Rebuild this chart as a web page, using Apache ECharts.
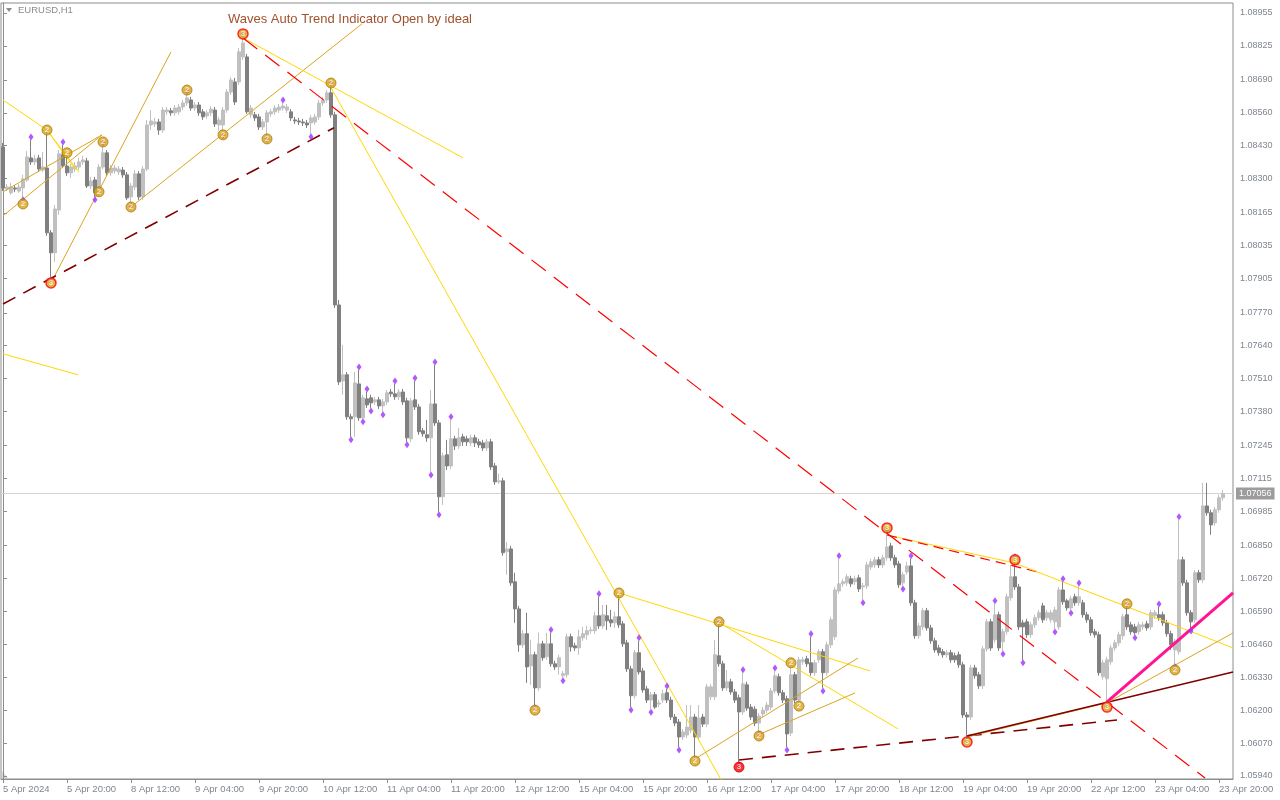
<!DOCTYPE html>
<html><head><meta charset="utf-8">
<script src="https://cdn.jsdelivr.net/npm/echarts@6/dist/echarts.min.js"></script>
<style>html,body{margin:0;padding:0;background:#fff}#c{width:1280px;height:800px}</style>
</head><body><div id="c"></div>
<script>
// ---------- data ----------
const symbolName = 'EURUSD,H1';
const titleText = 'Waves Auto Trend Indicator Open by ideal';
const tickLabels = ['5 Apr 2024','5 Apr 20:00','8 Apr 12:00','9 Apr 04:00','9 Apr 20:00','10 Apr 12:00','11 Apr 04:00','11 Apr 20:00','12 Apr 12:00','15 Apr 04:00','15 Apr 20:00','16 Apr 12:00','17 Apr 04:00','17 Apr 20:00','18 Apr 12:00','19 Apr 04:00','19 Apr 20:00','22 Apr 12:00','23 Apr 04:00','23 Apr 20:00'];
const priceTicks = [1.08955,1.08825,1.08690,1.08560,1.08430,1.08300,1.08165,1.08035,1.07905,1.07770,1.07640,1.07510,1.07380,1.07245,1.07115,1.06985,1.06850,1.06720,1.06590,1.06460,1.06330,1.06200,1.06070,1.05940];
const lastPrice = 1.07056;

const opens = [
1.08425,1.08259,1.08244,1.08263,1.08251,1.08263,1.08295,1.08382,1.08366,1.08382,
1.08334,1.08342,1.08086,1.08007,1.08176,1.08394,1.08350,1.08323,1.08338,1.08346,
1.08366,1.08370,1.08271,1.08295,1.08244,1.08346,1.08402,1.08323,1.08330,1.08326,
1.08334,1.08315,1.08228,1.08267,1.08319,1.08228,1.08338,1.08512,1.08516,1.08524,
1.08492,1.08564,1.08568,1.08560,1.08564,1.08583,1.08599,1.08611,1.08579,1.08591,
1.08564,1.08548,1.08560,1.08571,1.08512,1.08512,1.08571,1.08642,1.08682,1.08682,
1.08781,1.08781,1.08552,1.08552,1.08544,1.08504,1.08524,1.08556,1.08564,1.08571,
1.08579,1.08571,1.08564,1.08532,1.08528,1.08524,1.08520,1.08520,1.08524,1.08544,
1.08599,1.08611,1.08639,1.08552,1.07801,1.07501,1.07525,1.07359,1.07359,1.07489,
1.07355,1.07430,1.07434,1.07418,1.07426,1.07402,1.07418,1.07457,1.07450,1.07438,
1.07457,1.07422,1.07272,1.07426,1.07398,1.07304,1.07288,1.07276,1.07410,1.07335,
1.07043,1.07209,1.07165,1.07272,1.07244,1.07280,1.07272,1.07256,1.07276,1.07260,
1.07256,1.07236,1.07260,1.07165,1.07102,1.07106,1.06826,1.06837,1.06707,1.06600,
1.06458,1.06502,1.06375,1.06419,1.06288,1.06462,1.06411,1.06462,1.06383,1.06371,
1.06336,1.06340,1.06490,1.06454,1.06446,1.06486,1.06498,1.06514,1.06514,1.06573,
1.06533,1.06573,1.06557,1.06545,1.06569,1.06541,1.06466,1.06363,1.06257,1.06427,
1.06355,1.06284,1.06240,1.06261,1.06224,1.06240,1.06269,1.06240,1.06173,1.06153,
1.06094,1.06102,1.06121,1.06173,1.06094,1.06173,1.06145,1.06253,1.06253,1.06415,
1.06383,1.06288,1.06312,1.06272,1.06249,1.06193,1.06300,1.06212,1.06204,1.06149,
1.06185,1.06200,1.06212,1.06276,1.06332,1.06269,1.06245,1.06110,1.06340,1.06240,
1.06391,1.06403,1.06387,1.06348,1.06399,1.06431,1.06348,1.06458,1.06490,1.06671,
1.06699,1.06703,1.06719,1.06707,1.06723,1.06687,1.06691,1.06766,1.06774,1.06794,
1.06774,1.06802,1.06849,1.06802,1.06778,1.06703,1.06746,1.06770,1.06624,1.06494,
1.06529,1.06593,1.06525,1.06474,1.06446,1.06431,1.06419,1.06427,1.06415,1.06419,
1.06379,1.06181,1.06173,1.06367,1.06340,1.06296,1.06442,1.06549,1.06478,1.06577,
1.06470,1.06510,1.06644,1.06727,1.06687,1.06545,1.06549,1.06498,1.06537,1.06565,
1.06612,1.06565,1.06557,1.06549,1.06529,1.06675,1.06632,1.06604,1.06648,1.06624,
1.06624,1.06577,1.06557,1.06510,1.06498,1.06332,1.06324,1.06391,1.06446,1.06466,
1.06494,1.06577,1.06537,1.06529,1.06510,1.06529,1.06541,1.06529,1.06573,1.06577,
1.06577,1.06545,1.06502,1.06438,1.06431,1.06794,1.06703,1.06585,1.06557,1.06743,
1.06715,1.07007,1.06980,1.06940,1.06992,1.07039];

const closes = [
1.08263,1.08267,1.08267,1.08259,1.08267,1.08299,1.08386,1.08366,1.08378,1.08338,
1.08346,1.08086,1.08007,1.08180,1.08398,1.08350,1.08323,1.08346,1.08350,1.08366,
1.08374,1.08271,1.08291,1.08244,1.08346,1.08402,1.08323,1.08342,1.08342,1.08338,
1.08315,1.08224,1.08271,1.08319,1.08228,1.08338,1.08512,1.08528,1.08524,1.08492,
1.08571,1.08571,1.08560,1.08579,1.08583,1.08599,1.08619,1.08579,1.08591,1.08560,
1.08544,1.08560,1.08575,1.08516,1.08532,1.08571,1.08642,1.08690,1.08603,1.08801,
1.08836,1.08564,1.08579,1.08540,1.08504,1.08524,1.08560,1.08564,1.08579,1.08583,
1.08587,1.08583,1.08540,1.08528,1.08524,1.08520,1.08512,1.08540,1.08544,1.08599,
1.08611,1.08639,1.08552,1.07801,1.07497,1.07525,1.07359,1.07351,1.07493,1.07355,
1.07434,1.07406,1.07414,1.07426,1.07402,1.07418,1.07454,1.07450,1.07438,1.07457,
1.07418,1.07276,1.07422,1.07398,1.07300,1.07292,1.07276,1.07410,1.07335,1.07043,
1.07205,1.07165,1.07272,1.07244,1.07276,1.07260,1.07260,1.07276,1.07256,1.07248,
1.07236,1.07260,1.07161,1.07102,1.07106,1.06822,1.06837,1.06703,1.06600,1.06458,
1.06502,1.06371,1.06419,1.06288,1.06462,1.06407,1.06462,1.06383,1.06371,1.06407,
1.06344,1.06490,1.06450,1.06446,1.06490,1.06502,1.06514,1.06517,1.06573,1.06533,
1.06577,1.06553,1.06545,1.06569,1.06537,1.06462,1.06363,1.06257,1.06427,1.06351,
1.06280,1.06240,1.06261,1.06212,1.06228,1.06265,1.06240,1.06173,1.06149,1.06094,
1.06114,1.06133,1.06173,1.06094,1.06169,1.06145,1.06292,1.06292,1.06419,1.06383,
1.06288,1.06312,1.06272,1.06240,1.06193,1.06304,1.06208,1.06173,1.06149,1.06177,
1.06200,1.06220,1.06276,1.06336,1.06269,1.06240,1.06106,1.06340,1.06240,1.06399,
1.06399,1.06383,1.06348,1.06387,1.06431,1.06348,1.06458,1.06557,1.06675,1.06699,
1.06707,1.06727,1.06699,1.06719,1.06679,1.06691,1.06774,1.06786,1.06794,1.06774,
1.06802,1.06845,1.06802,1.06774,1.06695,1.06735,1.06770,1.06624,1.06494,1.06533,
1.06593,1.06525,1.06474,1.06438,1.06427,1.06419,1.06427,1.06399,1.06399,1.06379,
1.06181,1.06173,1.06367,1.06336,1.06296,1.06442,1.06549,1.06446,1.06577,1.06446,
1.06510,1.06648,1.06727,1.06687,1.06529,1.06529,1.06498,1.06537,1.06565,1.06585,
1.06557,1.06585,1.06585,1.06596,1.06675,1.06628,1.06604,1.06640,1.06624,1.06648,
1.06577,1.06557,1.06506,1.06498,1.06348,1.06387,1.06399,1.06446,1.06466,1.06498,
1.06569,1.06529,1.06510,1.06506,1.06537,1.06537,1.06525,1.06585,1.06585,1.06565,
1.06545,1.06502,1.06458,1.06470,1.06794,1.06703,1.06585,1.06549,1.06743,1.06715,
1.07007,1.06980,1.06932,1.06992,1.07039,1.07056];

const lows = [
1.08251,1.08251,1.08236,1.08247,1.08244,1.08228,1.08287,1.08354,1.08354,1.08326,
1.08326,1.08074,1.07912,1.07971,1.08157,1.08342,1.08311,1.08303,1.08326,1.08334,
1.08354,1.08263,1.08259,1.08228,1.08232,1.08338,1.08311,1.08311,1.08319,1.08315,
1.08303,1.08216,1.08204,1.08255,1.08216,1.08216,1.08330,1.08492,1.08504,1.08473,
1.08481,1.08552,1.08548,1.08548,1.08552,1.08571,1.08587,1.08568,1.08568,1.08548,
1.08532,1.08536,1.08548,1.08504,1.08489,1.08481,1.08560,1.08631,1.08591,1.08670,
1.08769,1.08556,1.08540,1.08528,1.08492,1.08492,1.08469,1.08544,1.08552,1.08560,
1.08568,1.08560,1.08528,1.08516,1.08512,1.08508,1.08500,1.08477,1.08512,1.08532,
1.08587,1.08599,1.08540,1.07789,1.07485,1.07446,1.07347,1.07280,1.07280,1.07343,
1.07351,1.07394,1.07394,1.07406,1.07390,1.07379,1.07406,1.07438,1.07426,1.07426,
1.07406,1.07260,1.07260,1.07386,1.07288,1.07280,1.07260,1.07141,1.07323,1.06984,
1.07011,1.07149,1.07153,1.07228,1.07232,1.07244,1.07244,1.07244,1.07240,1.07236,
1.07224,1.07224,1.07149,1.07090,1.07094,1.06810,1.06735,1.06691,1.06545,1.06431,
1.06446,1.06308,1.06300,1.06220,1.06276,1.06395,1.06399,1.06371,1.06359,1.06340,
1.06328,1.06328,1.06431,1.06434,1.06419,1.06474,1.06478,1.06502,1.06502,1.06521,
1.06521,1.06517,1.06529,1.06525,1.06525,1.06450,1.06351,1.06212,1.06245,1.06340,
1.06269,1.06228,1.06204,1.06205,1.06212,1.06228,1.06228,1.06161,1.06137,1.06054,
1.06082,1.06090,1.06110,1.06003,1.06082,1.06133,1.06133,1.06240,1.06240,1.06371,
1.06276,1.06276,1.06261,1.06228,1.05995,1.06181,1.06197,1.06161,1.06137,1.06118,
1.06173,1.06189,1.06200,1.06265,1.06257,1.06228,1.06054,1.06098,1.06228,1.06216,
1.06379,1.06371,1.06336,1.06336,1.06387,1.06288,1.06336,1.06446,1.06478,1.06660,
1.06687,1.06691,1.06687,1.06695,1.06667,1.06636,1.06679,1.06754,1.06762,1.06762,
1.06762,1.06790,1.06790,1.06762,1.06683,1.06691,1.06735,1.06612,1.06482,1.06482,
1.06517,1.06514,1.06462,1.06427,1.06415,1.06407,1.06407,1.06387,1.06387,1.06367,
1.06169,1.06094,1.06161,1.06324,1.06284,1.06284,1.06431,1.06434,1.06466,1.06434,
1.06434,1.06498,1.06632,1.06675,1.06517,1.06399,1.06486,1.06486,1.06525,1.06553,
1.06545,1.06553,1.06545,1.06521,1.06517,1.06616,1.06593,1.06596,1.06612,1.06612,
1.06565,1.06545,1.06494,1.06486,1.06336,1.06320,1.06232,1.06379,1.06434,1.06454,
1.06478,1.06517,1.06498,1.06498,1.06498,1.06517,1.06514,1.06517,1.06561,1.06553,
1.06533,1.06490,1.06438,1.06383,1.06419,1.06691,1.06573,1.06525,1.06545,1.06703,
1.06703,1.06968,1.06893,1.06928,1.06980,1.07027];

const highs = [
1.08441,1.08279,1.08283,1.08275,1.08279,1.08315,1.08409,1.08453,1.08394,1.08394,
1.08406,1.08492,1.08097,1.08196,1.08413,1.08433,1.08386,1.08358,1.08366,1.08382,
1.08390,1.08382,1.08307,1.08307,1.08358,1.08429,1.08413,1.08354,1.08354,1.08350,
1.08346,1.08326,1.08283,1.08334,1.08330,1.08350,1.08532,1.08571,1.08540,1.08536,
1.08583,1.08583,1.08579,1.08591,1.08595,1.08611,1.08631,1.08623,1.08603,1.08603,
1.08575,1.08571,1.08587,1.08583,1.08544,1.08583,1.08654,1.08702,1.08698,1.08816,
1.08860,1.08793,1.08591,1.08564,1.08556,1.08536,1.08571,1.08575,1.08591,1.08595,
1.08599,1.08595,1.08575,1.08544,1.08540,1.08536,1.08532,1.08552,1.08556,1.08611,
1.08623,1.08650,1.08666,1.08564,1.07821,1.07643,1.07536,1.07371,1.07536,1.07544,
1.07446,1.07457,1.07446,1.07438,1.07438,1.07430,1.07465,1.07469,1.07489,1.07469,
1.07469,1.07434,1.07434,1.07501,1.07410,1.07315,1.07347,1.07465,1.07564,1.07347,
1.07217,1.07268,1.07347,1.07284,1.07315,1.07292,1.07284,1.07288,1.07288,1.07272,
1.07268,1.07272,1.07272,1.07177,1.07134,1.07118,1.06865,1.06849,1.06743,1.06612,
1.06517,1.06585,1.06478,1.06431,1.06506,1.06474,1.06506,1.06506,1.06395,1.06419,
1.06355,1.06502,1.06502,1.06466,1.06517,1.06529,1.06533,1.06529,1.06589,1.06648,
1.06616,1.06616,1.06596,1.06589,1.06656,1.06553,1.06478,1.06375,1.06438,1.06474,
1.06367,1.06296,1.06272,1.06272,1.06240,1.06280,1.06284,1.06253,1.06185,1.06165,
1.06125,1.06220,1.06220,1.06185,1.06220,1.06185,1.06304,1.06304,1.06478,1.06537,
1.06395,1.06359,1.06324,1.06284,1.06261,1.06348,1.06312,1.06224,1.06216,1.06189,
1.06212,1.06232,1.06288,1.06355,1.06344,1.06280,1.06257,1.06387,1.06351,1.06411,
1.06411,1.06415,1.06490,1.06399,1.06442,1.06442,1.06470,1.06569,1.06687,1.06798,
1.06719,1.06739,1.06731,1.06731,1.06735,1.06703,1.06786,1.06798,1.06806,1.06806,
1.06814,1.06901,1.06861,1.06814,1.06790,1.06746,1.06786,1.06798,1.06636,1.06545,
1.06604,1.06604,1.06537,1.06486,1.06458,1.06442,1.06438,1.06438,1.06427,1.06431,
1.06391,1.06193,1.06379,1.06379,1.06351,1.06454,1.06561,1.06561,1.06620,1.06589,
1.06521,1.06660,1.06774,1.06794,1.06699,1.06557,1.06561,1.06549,1.06577,1.06596,
1.06624,1.06596,1.06596,1.06608,1.06687,1.06707,1.06640,1.06652,1.06660,1.06691,
1.06636,1.06589,1.06569,1.06521,1.06510,1.06399,1.06411,1.06458,1.06478,1.06510,
1.06581,1.06608,1.06549,1.06541,1.06549,1.06549,1.06553,1.06596,1.06596,1.06608,
1.06589,1.06557,1.06514,1.06482,1.06952,1.06806,1.06715,1.06596,1.06754,1.06754,
1.07098,1.07098,1.06992,1.07003,1.07051,1.07070];

// fractal bars (purple marks)
const fractalHighBars = [7,15,25,46,60,70,82,89,91,98,103,108,112,137,149,159,166,179,185,193,202,209,221,227,248,253,265,269,281,289,294];
const fractalLowBars  = [5,12,23,32,55,66,77,87,90,92,95,101,107,109,133,140,157,162,169,184,189,196,205,215,225,241,250,255,263,267,276,283,293,297];

// zigzag wave pivots: bar, price, wave number
const pivotBars   = [11,5,16,12,24,25,32,46,55,60,66,82,133,154,173,179,184,189,197,199,221,241,253,276,281,293];
const pivotPrices = [1.08492,1.08200,1.08402,1.07888,1.08248,1.08445,1.08188,1.08650,1.08473,1.08872,1.08457,1.08678,1.06200,1.06663,1.05999,1.06549,1.05975,1.06098,1.06387,1.06216,1.06920,1.06074,1.06794,1.06212,1.06620,1.06359];
const pivotWaves  = [2,2,2,3,2,2,2,2,2,3,2,2,2,2,2,2,3,2,2,2,3,3,3,3,2,2];
const activePivotBar = 184;

// trend lines: [bar1, price1, bar2, price2, kind]
const trendLines = [
 [0, 1.08611, 11, 1.08492, 'yellow'],
 [11, 1.08492, 19, 1.08326, 'yellow'],
 [11, 1.08492, 18, 1.08338, 'yellow'],
 [0, 1.08248, 24.75, 1.08473, 'orange'],
 [0, 1.08153, 24.75, 1.08473, 'orange'],
 [12, 1.07888, 42, 1.08801, 'orange'],
 [32, 1.08188, 89.75, 1.08912, 'orange'],
 [0, 1.07805, 82.75, 1.08501, 'darkredDash'],
 [0, 1.07608, 18.75, 1.07525, 'yellow'],
 [60, 1.08856, 115, 1.08382, 'yellow'],
 [82, 1.08659, 181, 1.05884, 'yellow'],
 [154, 1.06663, 216.75, 1.06355, 'yellow'],
 [178.75, 1.06549, 223.75, 1.06126, 'yellow'],
 [173, 1.06007, 213.75, 1.06406, 'orange'],
 [188.75, 1.06102, 213, 1.06268, 'orange'],
 [184, 1.06003, 278.5, 1.06161, 'darkredDash'],
 [221, 1.06892, 252.75, 1.06782, 'yellow'],
 [221, 1.06892, 258.75, 1.06746, 'redDashShort'],
 [252.75, 1.06782, 307.5, 1.06446, 'yellow'],
 [241, 1.06094, 276, 1.06229, 'orange'],
 [241, 1.06098, 307.5, 1.06351, 'darkred'],
 [276, 1.06229, 307.5, 1.06505, 'orange'],
 [60, 1.08856, 300.5, 1.05932, 'redDash'],
 [276, 1.06233, 307.5, 1.06663, 'magenta']
];

// ---------- build ----------
const SLOTS = 308;
const months = ['Jan','Feb','Mar','Apr','May','Jun','Jul','Aug','Sep','Oct','Nov','Dec'];
const pad = n => (n < 10 ? '0' : '') + n;
const categories = [];
let t = Date.UTC(2024, 3, 5, 4);
while (categories.length < SLOTS) {
  const d = new Date(t); const wd = d.getUTCDay();
  if (wd !== 0 && wd !== 6) categories.push(d.getUTCDate() + ' ' + months[d.getUTCMonth()] + ' ' + pad(d.getUTCHours()) + ':00');
  t += 3600000;
}
const candles = opens.map((o, i) => [o, closes[i], lows[i], highs[i]]);

const lineStyles = {
  yellow: {color: '#FFD700', width: 1, type: 'solid'},
  orange: {color: '#DAA520', width: 1, type: 'solid'},
  redDash: {color: '#FF0000', width: 1.2, type: [18, 10]},
  redDashShort: {color: '#FF0000', width: 1.2, type: [10, 6]},
  darkred: {color: '#800000', width: 1.5, type: 'solid'},
  darkredDash: {color: '#800000', width: 1.6, type: [14, 9]},
  magenta: {color: '#FF1493', width: 3, type: 'solid'}
};

const series = [{
  type: 'candlestick', xAxisIndex: 0, yAxisIndex: 0, data: candles,
  barWidth: 3, barMinWidth: 3, barMaxWidth: 3, z: 2, large: false,
  itemStyle: {color: '#C0C0C0', color0: '#808080', borderColor: '#C0C0C0', borderColor0: '#808080', borderWidth: 1}
}];

// current price line
series.push({
  type: 'line', xAxisIndex: 1, yAxisIndex: 0, data: [[-0.5, lastPrice], [SLOTS - 0.5, lastPrice]],
  symbol: 'none', silent: true, z: 1, lineStyle: {color: '#D4D4D4', width: 1},
  endLabel: {show: true, formatter: () => lastPrice.toFixed(5), backgroundColor: '#9C9C9C', color: '#FFFFFF',
    fontSize: 9, fontFamily: 'Liberation Sans', padding: [2, 3, 1, 3], distance: 3}
});

trendLines.forEach(l => {
  series.push({type: 'line', xAxisIndex: 1, yAxisIndex: 0, data: [[l[0], l[1]], [l[2], l[3]]],
    symbol: 'none', silent: true, z: l[4] === 'magenta' ? 4 : 3, lineStyle: lineStyles[l[4]], animation: false});
});

series.push({type: 'scatter', xAxisIndex: 1, yAxisIndex: 0, silent: true, z: 5, symbol: 'diamond', symbolSize: [5, 7],
  symbolOffset: [0, -3], itemStyle: {color: '#9B30FF'}, data: fractalHighBars.map(i => [i, highs[i]])});
series.push({type: 'scatter', xAxisIndex: 1, yAxisIndex: 0, silent: true, z: 5, symbol: 'diamond', symbolSize: [5, 7],
  symbolOffset: [0, 3], itemStyle: {color: '#9B30FF'}, data: fractalLowBars.map(i => [i, lows[i]])});

series.push({type: 'scatter', xAxisIndex: 1, yAxisIndex: 0, silent: true, z: 6, symbol: 'circle', symbolSize: 10,
  data: pivotBars.map((b, k) => {
    const w = pivotWaves[k];
    const active = b === activePivotBar;
    return {
      value: [b, pivotPrices[k]],
      itemStyle: active ? {color: '#FF0000', borderColor: '#D00000', borderWidth: 1}
                        : {color: '#D9A11A', borderColor: w === 3 ? '#FF0000' : '#A87A10', borderWidth: w === 3 ? 1.5 : 1},
      label: {show: true, position: 'inside', formatter: String(w), color: '#FFFFFF', fontSize: 8, fontWeight: 'bold', fontFamily: 'Liberation Sans'}
    };
  })});

const axisGrey = '#8C8C8C';
const labelGrey = '#7F8590';
const chart = echarts.init(document.getElementById('c'), null, {renderer: 'canvas'});
chart.setOption({
  animation: false,
  backgroundColor: '#FFFFFF',
  grid: {left: 1, right: 47, top: 3, bottom: 21, show: true, borderColor: axisGrey, borderWidth: 1, containLabel: false},
  xAxis: [{
    type: 'category', data: categories, boundaryGap: true,
    axisLine: {show: true, lineStyle: {color: axisGrey}},
    axisTick: {show: true, interval: 15, alignWithLabel: true, length: 4, lineStyle: {color: axisGrey}},
    axisLabel: {interval: 15, align: 'left', color: labelGrey, fontSize: 9.5, fontFamily: 'Liberation Sans', margin: 5,
      formatter: (v, i) => tickLabels[i / 16] || ''},
    splitLine: {show: false}
  }, {
    type: 'value', min: -0.5, max: SLOTS - 0.5, show: false
  }],
  yAxis: [{
    type: 'value', position: 'right', min: 1.05928, max: 1.08994, scale: true,
    axisLine: {show: true, lineStyle: {color: axisGrey}},
    axisTick: {show: true, length: 4, customValues: priceTicks, lineStyle: {color: axisGrey}},
    axisLabel: {show: true, customValues: priceTicks, formatter: v => v.toFixed(5), color: labelGrey, fontSize: 9,
      fontFamily: 'Liberation Sans', margin: 7},
    splitLine: {show: false}
  }],
  graphic: [
    {type: 'polygon', shape: {points: [[6, 8], [12, 8], [9, 12]]}, style: {fill: '#8C8C8C'}},
    {type: 'text', left: 18, top: 5, style: {text: symbolName, fill: '#8C8C8C', font: '9.5px "Liberation Sans"'}},
    {type: 'text', left: 228, top: 13, style: {text: titleText, fill: '#A0522D', font: '13px "Liberation Sans"'}},
    {type: 'polygon', shape: {points: [[2, 771], [2, 778], [8, 778]]}, style: {fill: '#D8D8D8'}}
  ],
  series: series
});
</script>
</body></html>
